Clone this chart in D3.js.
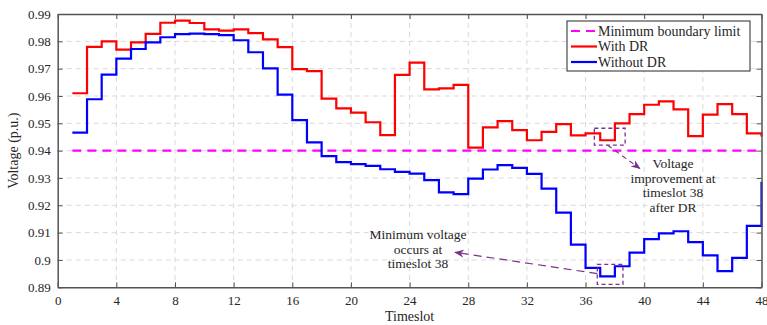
<!DOCTYPE html>
<html>
<head>
<meta charset="utf-8">
<script src="https://cdn.jsdelivr.net/npm/d3@7"></script>
<style>
  body { margin: 0; background: #fff; }
  svg text { font-family: "Liberation Serif", "Times New Roman", Times, "DejaVu Serif", serif; fill: #262626; }
</style>
</head>
<body>
<svg width="767" height="325"></svg>
<script>
var timeslots = d3.range(1, 49);
var withDR = [0.961, 0.978, 0.980, 0.977, 0.9796, 0.9827, 0.9868, 0.9876, 0.9867, 0.9844,
  0.9839, 0.9844, 0.983, 0.9807, 0.9779, 0.9698, 0.9691, 0.959, 0.9555, 0.9539,
  0.9504, 0.9457, 0.9677, 0.9722, 0.9624, 0.9628, 0.9641, 0.9411, 0.9485, 0.9508,
  0.9475, 0.9438, 0.9469, 0.9497, 0.9456, 0.9463, 0.9438, 0.950, 0.9534, 0.9568,
  0.958, 0.9551, 0.9453, 0.9532, 0.957, 0.9534, 0.9463, 0.9452];
var withoutDR = [0.9466, 0.9588, 0.9678, 0.9737, 0.9772, 0.9796, 0.9815, 0.9826, 0.9828, 0.9826,
  0.9823, 0.9804, 0.976, 0.9701, 0.9605, 0.9512, 0.943, 0.938, 0.9358, 0.9351,
  0.9344, 0.9332, 0.9322, 0.9316, 0.9292, 0.9247, 0.9241, 0.9298, 0.9331, 0.9347,
  0.9337, 0.9315, 0.9261, 0.9173, 0.9056, 0.8971, 0.894, 0.8977, 0.9027, 0.9076,
  0.9097, 0.9105, 0.9065, 0.9017, 0.8959, 0.9008, 0.9125, 0.9286];
var minLimit = 0.94;
var xTicks = [0, 4, 8, 12, 16, 20, 24, 28, 32, 36, 40, 44, 48];
var yTicks = [0.89, 0.9, 0.91, 0.92, 0.93, 0.94, 0.95, 0.96, 0.97, 0.98, 0.99];
var legendLabels = ['Minimum boundary limit', 'With DR', 'Without DR'];
// annotation boxes [x0, x1, y0, y1] in data units
var boxImprove = [36.6, 38.7, 0.9482, 0.942];
var boxMin = [36.8, 38.55, 0.8984, 0.8911];
var noteImprove = ['Voltage', 'improvement at', 'timeslot 38', 'after DR'];
var noteMin = ['Minimum voltage', 'occurs at', 'timeslot 38'];

var serif = '"Liberation Serif", "Times New Roman", Times, "DejaVu Serif", serif';
var svg = d3.select('svg');
var margin = {left: 57.7, right: 5.5, top: 14, bottom: 37.7};
var width = 767 - margin.left - margin.right,
    height = 325 - margin.top - margin.bottom;
var g = svg.append('g').attr('transform', 'translate(' + margin.left + ',' + margin.top + ')');

var x = d3.scaleLinear().domain([0, 48]).range([0, width]);
var y = d3.scaleLinear().domain([0.89, 0.99]).range([height, 0]);

// grid
g.append('g').selectAll('line').data(xTicks.slice(1, -1)).enter().append('line')
  .attr('x1', function(d) { return x(d); }).attr('x2', function(d) { return x(d); })
  .attr('y1', 0).attr('y2', height)
  .attr('stroke', '#d9d9d9').attr('stroke-dasharray', '5,4');
g.append('g').selectAll('line').data(yTicks.slice(1, -1)).enter().append('line')
  .attr('y1', function(d) { return y(d); }).attr('y2', function(d) { return y(d); })
  .attr('x1', 0).attr('x2', width)
  .attr('stroke', '#d9d9d9').attr('stroke-dasharray', '5,4');

// limit line
g.append('line')
  .attr('x1', x(1)).attr('x2', x(48)).attr('y1', y(minLimit)).attr('y2', y(minLimit))
  .attr('stroke', '#ff00ff').attr('stroke-width', 2.2).attr('stroke-dasharray', '9,6');

var line = d3.line()
  .x(function(d, i) { return x(timeslots[i]); })
  .y(function(d) { return y(d); })
  .curve(d3.curveStepAfter);

g.append('path').datum(withDR).attr('d', line)
  .attr('fill', 'none').attr('stroke', '#ff0000').attr('stroke-width', 2.2);
g.append('path').datum(withoutDR).attr('d', line)
  .attr('fill', 'none').attr('stroke', '#0000ff').attr('stroke-width', 2.2);

// axes
var fmt = function(d) { return d3.format('.2f')(d).replace(/0$/, ''); };
var xAxis = g.append('g').attr('transform', 'translate(0,' + height + ')')
  .call(d3.axisBottom(x).tickValues(xTicks).tickSizeInner(-5).tickSizeOuter(0).tickPadding(8));
var yAxis = g.append('g')
  .call(d3.axisLeft(y).tickValues(yTicks).tickFormat(fmt).tickSizeInner(-5).tickSizeOuter(0).tickPadding(7));
var xTop = g.append('g')
  .call(d3.axisTop(x).tickValues(xTicks).tickSizeInner(-5).tickSizeOuter(0).tickFormat(''));
var yRight = g.append('g').attr('transform', 'translate(' + width + ',0)')
  .call(d3.axisRight(y).tickValues(yTicks).tickSizeInner(-5).tickSizeOuter(0).tickFormat(''));
[xAxis, yAxis, xTop, yRight].forEach(function(a) {
  a.attr('font-family', serif);
  a.selectAll('path').attr('stroke', '#555').attr('stroke-width', 1.5);
  a.selectAll('line').attr('stroke', '#555');
  a.selectAll('text').attr('font-size', 13).attr('fill', '#333').attr('font-family', serif);
});

// labels
svg.append('text').attr('x', margin.left + width / 2).attr('y', 321)
  .attr('text-anchor', 'middle').attr('font-size', 14).attr('font-family', serif).text('Timeslot');
svg.append('text').attr('transform', 'translate(18,' + (margin.top + height / 2) + ') rotate(-90)')
  .attr('text-anchor', 'middle').attr('font-size', 14).attr('font-family', serif).text('Voltage (p.u.)');

// legend
var lg = svg.append('g').attr('transform', 'translate(567,21)');
lg.append('rect').attr('width', 183).attr('height', 50)
  .attr('fill', '#fff').attr('stroke', '#262626').attr('stroke-width', 1);
var legendColors = ['#ff00ff', '#ff0000', '#0000ff'];
legendLabels.forEach(function(lab, i) {
  var yy = 10 + i * 15.5;
  lg.append('line').attr('x1', 4).attr('x2', 30).attr('y1', yy).attr('y2', yy)
    .attr('stroke', legendColors[i]).attr('stroke-width', 2.2)
    .attr('stroke-dasharray', i === 0 ? '9,6' : null);
  lg.append('text').attr('x', 31).attr('y', yy + 4.5).attr('font-size', 14)
    .attr('font-family', serif).text(lab);
});

// annotations
var purple = '#7e2f8e';
svg.append('defs').append('marker').attr('id', 'arr')
  .attr('viewBox', '0 0 10 10').attr('refX', 9).attr('refY', 5)
  .attr('markerWidth', 8).attr('markerHeight', 8).attr('orient', 'auto')
  .append('path').attr('d', 'M0,1 L10,5 L0,9 L3,5 Z').attr('fill', purple);

[boxImprove, boxMin].forEach(function(b) {
  g.append('rect').attr('x', x(b[0])).attr('y', y(b[2]))
    .attr('width', x(b[1]) - x(b[0])).attr('height', y(b[3]) - y(b[2]))
    .attr('fill', 'none').attr('stroke', purple).attr('stroke-width', 1.3)
    .attr('stroke-dasharray', '4,3');
});
g.append('line')
  .attr('x1', x(37.5)).attr('y1', y(boxImprove[3]))
  .attr('x2', x(39.7)).attr('y2', y(0.9335))
  .attr('stroke', purple).attr('stroke-width', 1.2).attr('stroke-dasharray', '5,4')
  .attr('marker-end', 'url(#arr)');
g.append('line')
  .attr('x1', x(boxMin[0])).attr('y1', y(0.895))
  .attr('x2', x(27.1)).attr('y2', y(0.9028))
  .attr('stroke', purple).attr('stroke-width', 1.2).attr('stroke-dasharray', '8,5')
  .attr('marker-end', 'url(#arr)');

noteImprove.forEach(function(t, i) {
  svg.append('text').attr('x', 673).attr('y', 168 + i * 14.5)
    .attr('text-anchor', 'middle').attr('font-size', 13.5).attr('font-family', serif).text(t);
});
noteMin.forEach(function(t, i) {
  svg.append('text').attr('x', 418).attr('y', 239 + i * 14.5)
    .attr('text-anchor', 'middle').attr('font-size', 13.5).attr('font-family', serif).text(t);
});
</script>
</body>
</html>
